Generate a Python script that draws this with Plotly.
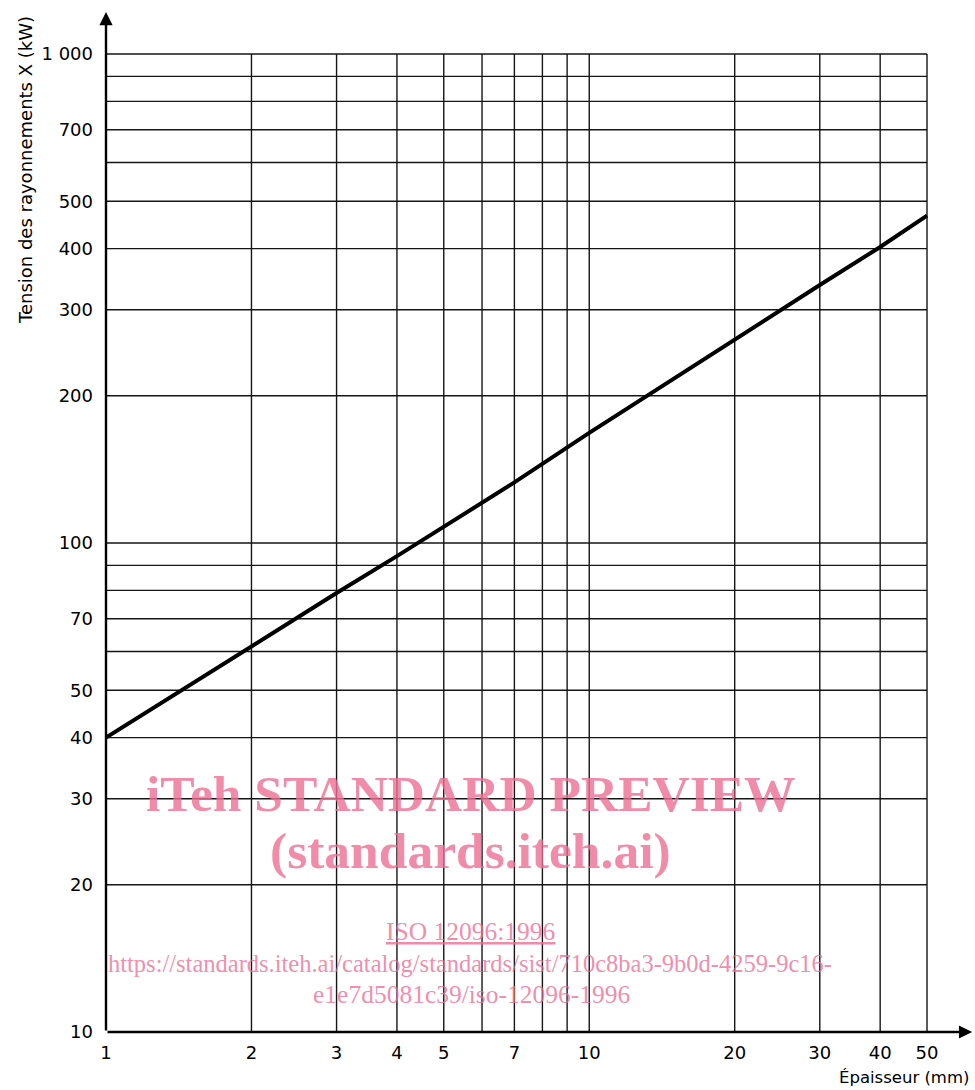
import math
import plotly.graph_objects as go

# ---- data ----
thickness_mm = [1, 2, 3, 4, 5, 7, 10, 20, 30, 40, 50]
tension_kw = [40, 61.5, 79, 94, 108, 133, 168, 261, 337, 403, 467]

x_tickvals = [1, 2, 3, 4, 5, 7, 10, 20, 30, 40, 50]
x_ticktext = ["1", "2", "3", "4", "5", "7", "10", "20", "30", "40", "50"]
y_tickvals = [10, 20, 30, 40, 50, 70, 100, 200, 300, 400, 500, 700, 1000]
y_ticktext = ["10", "20", "30", "40", "50", "70", "100", "200", "300", "400", "500", "700", "1 000"]

x_grid = [2, 3, 4, 5, 6, 7, 8, 9, 10, 20, 30, 40, 50]
y_grid = [20, 30, 40, 50, 60, 70, 80, 90, 100, 200, 300, 400, 500, 600, 700, 800, 900, 1000]
x_min, x_max = 1, 50
y_min, y_max = 10, 1000
x_axis_end = 62.0
y_axis_end = 1218.0

x_title = "Épaisseur (mm)"
y_title = "Tension des rayonnements X (kW)"
wm_title1 = "iTeh STANDARD PREVIEW"
wm_title2 = "(standards.iteh.ai)"
wm_iso = "ISO 12096:1996"
wm_url1 = "https://standards.iteh.ai/catalog/standards/sist/710c8ba3-9b0d-4259-9c16-"
wm_url2 = "e1e7d5081c39/iso-12096-1996"

# ---- grid built from tick arrays ----
gx, gy = [], []
for yv in y_grid:
    gx += [x_min, x_max, None]
    gy += [yv, yv, None]
for xv in x_grid:
    gx += [xv, xv, None]
    gy += [y_min, y_max, None]

fig = go.Figure()
fig.add_trace(go.Scatter(x=gx, y=gy, mode="lines",
                         line=dict(color="#151515", width=1.4),
                         hoverinfo="skip", showlegend=False))
fig.add_trace(go.Scatter(x=thickness_mm, y=tension_kw, mode="lines",
                         line=dict(color="black", width=4),
                         showlegend=False))

W, H = 975, 1090
L, R, T, B = 106, 0, 8, 58
# pixel mapping: x=1 at 106, x=50 at ~927; y=10 at 1032, y=1000 at 54
x_dec = (927 - 106) / math.log10(50)
y_dec = (1032 - 54) / 2.0
x_range = [0, (W - R - L) / x_dec]
y_range = [1, 1 + (H - B - T) / y_dec]

tick_font = dict(family="DejaVu Sans", size=18, color="black")
fig.update_xaxes(type="log", range=x_range, tickvals=x_tickvals, ticktext=x_ticktext,
                 showgrid=False, zeroline=False, showline=False, ticks="",
                 tickfont=tick_font, ticklabelstandoff=8)
fig.update_yaxes(type="log", range=y_range, tickvals=y_tickvals, ticktext=y_ticktext,
                 showgrid=False, zeroline=False, showline=False, ticks="",
                 tickfont=tick_font, ticklabelstandoff=12)

annotations = []
# axis lines with arrowheads (annotation coordinates are log10 on log axes)
annotations.append(dict(x=math.log10(x_axis_end), y=math.log10(y_min),
                        ax=math.log10(x_min), ay=math.log10(y_min),
                        xref="x", yref="y", axref="x", ayref="y", text="",
                        showarrow=True, arrowhead=2, arrowsize=1.1, arrowwidth=2.4,
                        arrowcolor="black", standoff=0, startstandoff=0))
annotations.append(dict(x=math.log10(x_min), y=math.log10(y_axis_end),
                        ax=math.log10(x_min), ay=math.log10(y_min),
                        xref="x", yref="y", axref="x", ayref="y", text="",
                        showarrow=True, arrowhead=2, arrowsize=1.1, arrowwidth=2.4,
                        arrowcolor="black", standoff=0, startstandoff=0))

pw = W - L - R
ph = H - T - B


def px(xp):
    return (xp - L) / pw


def py(yp):
    return (H - B - yp) / ph


annotations.append(dict(x=px(25), y=py(170), xref="paper", yref="paper",
                        text=y_title, textangle=-90, showarrow=False,
                        xanchor="center", yanchor="middle",
                        font=dict(family="DejaVu Sans", size=18, color="black")))
annotations.append(dict(x=px(971), y=py(1077), xref="paper", yref="paper",
                        text=x_title, showarrow=False,
                        xanchor="right", yanchor="middle",
                        font=dict(family="DejaVu Sans", size=16.5, color="black")))

pink = "rgba(236,111,149,0.8)"
annotations.append(dict(x=px(471), y=py(793), xref="paper", yref="paper", text="<b>" + wm_title1 + "</b>",
                        showarrow=False, xanchor="center", yanchor="middle",
                        font=dict(family="Liberation Serif", size=51.5, color=pink)))
annotations.append(dict(x=px(470), y=py(850), xref="paper", yref="paper", text="<b>" + wm_title2 + "</b>",
                        showarrow=False, xanchor="center", yanchor="middle",
                        font=dict(family="Liberation Serif", size=51.5, color=pink)))
annotations.append(dict(x=px(470), y=py(931), xref="paper", yref="paper", text=wm_iso,
                        showarrow=False, xanchor="center", yanchor="middle",
                        font=dict(family="Liberation Serif", size=25.5, color=pink, lineposition="under")))
annotations.append(dict(x=px(470), y=py(963), xref="paper", yref="paper", text=wm_url1,
                        showarrow=False, xanchor="center", yanchor="middle",
                        font=dict(family="Liberation Serif", size=24.5, color=pink)))
annotations.append(dict(x=px(471), y=py(994), xref="paper", yref="paper", text=wm_url2,
                        showarrow=False, xanchor="center", yanchor="middle",
                        font=dict(family="Liberation Serif", size=25.5, color=pink)))

fig.update_layout(width=W, height=H, margin=dict(l=L, r=R, t=T, b=B, pad=0),
                  plot_bgcolor="white", paper_bgcolor="white",
                  showlegend=False, hovermode=False, annotations=annotations)

fig.write_html("out.html", config={"displayModeBar": False, "staticPlot": True},
               post_script="document.body.style.margin='0px'; document.body.style.overflow='hidden';")
